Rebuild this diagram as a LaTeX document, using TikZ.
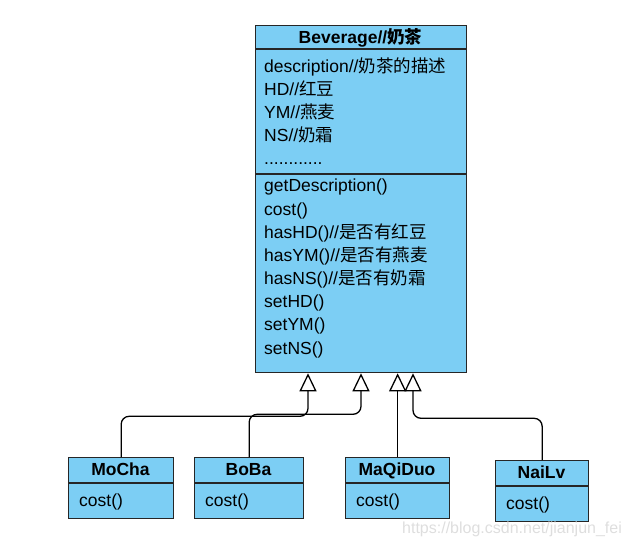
\documentclass[tikz,border=0pt]{standalone}
\usepackage{fontspec}
\setmainfont{Liberation Sans}
\newfontfamily\cjk{Noto Sans CJK SC}
\usetikzlibrary{arrows.meta}
\definecolor{clsblue}{RGB}{124,206,244}
\newcommand{\umlfont}{\fontsize{17.5pt}{21pt}\selectfont}
\newcommand{\attrdots}{............}
\tikzstyle{cls} = [draw=black!85, fill=clsblue, line width=1.3pt, anchor=north west, inner sep=0pt]
\tikzstyle{sep} = [draw=black!85, line width=1.3pt]
\tikzstyle{txt} = [anchor=base west, inner sep=0pt, font=\umlfont]
\tikzstyle{head} = [anchor=base, inner sep=0pt, font=\umlfont\bfseries]
\tikzstyle{inherit} = [line width=1.3pt, rounded corners=8pt, -{Triangle[open, length=18pt, width=17pt, line width=1.3pt]}]

\begin{document}
\begin{tikzpicture}[x=1pt, y=-1pt]
\useasboundingbox (0,0) rectangle (629,545);

\node[cls, minimum width=211pt, minimum height=347pt] (bev) at (255,25) {};
\draw[sep] (255,49) -- (466,49);
\draw[sep] (255,174) -- (466,174);
\node[head] (bevname) at (360.5,44) {Beverage//{\cjk 奶茶}};

\foreach \t [count=\i from 0] in {description//{\cjk 奶茶的描述}, HD//{\cjk 红豆}, YM//{\cjk 燕麦}, NS//{\cjk 奶霜}, \attrdots}
{
 \node[txt] (attr\i) at (264,73+23*\i) {\t};
}

\foreach \t [count=\i from 0] in {getDescription(), cost(), hasHD()//{\cjk 是否有红豆}, hasYM()//{\cjk 是否有燕麦}, hasNS()//{\cjk 是否有奶霜}, setHD(), setYM(), setNS()}
{
 \node[txt] (op\i) at (264,192+23.15*\i) {\t};
}

\foreach \n/\x/\y/\w/\lbl in {mocha/68/457/105/MoCha, boba/194/457/109/BoBa, maqi/345/457/104/MaQiDuo, nailv/495/460/93/NaiLv}
{
 \node[cls, minimum width=\w pt, minimum height=61pt] (\n) at (\x,\y) {};
 \draw[sep] (\x,\y+26) -- (\x+\w,\y+26);
 \node[head] (\n-name) at (\x+\w/2,\y+18) {\lbl};
 \node[txt] (\n-op) at (\x+11,\y+49) {cost()};
}

\coordinate (t1) at ([xshift=53pt]bev.south west);
\coordinate (t2) at ([xshift=106pt]bev.south west);
\coordinate (t3) at (maqi.north |- bev.south);
\coordinate (t4) at ([xshift=158pt]bev.south west);

\draw[inherit] (mocha.north) |- ([yshift=-43pt]t1) -- (t1);
\draw[inherit] (boba.north) |- ([yshift=-41pt]t2) -- (t2);
\draw[inherit] (maqi.north) -- (t3);
\draw[inherit] (nailv.north) |- ([yshift=-45pt]t4) -- (t4);

\node[anchor=base west, inner sep=0pt, text=black!13, font=\fontsize{16pt}{16pt}\selectfont] (mark) at (402,533) {https://blog.csdn.net/jianjun\_fei};

\end{tikzpicture}
\end{document}
